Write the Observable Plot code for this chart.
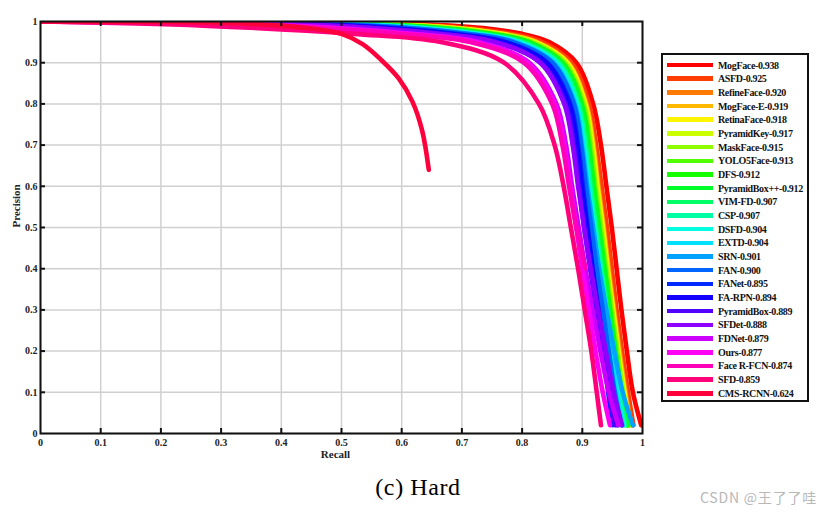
<!DOCTYPE html>
<html>
<head>
<meta charset="utf-8">
<script src="https://cdn.jsdelivr.net/npm/d3@7"></script>
<script src="https://cdn.jsdelivr.net/npm/@observablehq/plot@0.6"></script>
<style>
  html, body { margin: 0; padding: 0; background: #fff; }
  #wrap { position: relative; width: 828px; height: 516px; overflow: hidden; background: #fff; }
  #chart { position: absolute; left: 0; top: 0; }
  #legend { position: absolute; left: 661px; top: 53px; width: 148px; height: 349px; border: 2px solid #111; box-sizing: border-box; background: #fff; }
  .row { position: absolute; left: 4px; height: 12px; display: flex; align-items: center; white-space: nowrap; }
  .sw { width: 46px; height: 4.5px; margin-right: 5px; }
  .lb { font-family: "Liberation Serif", serif; font-weight: bold; font-size: 10px; color: #111; letter-spacing: -0.35px; }
  #caption { position: absolute; left: 4px; width: 828px; top: 474px; text-align: center; font-family: "Liberation Serif", serif; font-size: 24px; letter-spacing: 0.6px; color: #000; }
  #wm { position: absolute; left: 700px; top: 487px; font-family: "Noto Sans CJK SC", sans-serif; font-size: 14px; letter-spacing: 0.8px; color: #b8b8b8; }
</style>
</head>
<body>
<div id="wrap">
  <div id="chart"></div>
  <div id="legend"></div>
  <div id="caption">(c) Hard</div>
  <div id="wm">CSDN @王了了哇</div>
</div>
<script>
const methods = ["MogFace-0.938","ASFD-0.925","RefineFace-0.920","MogFace-E-0.919","RetinaFace-0.918","PyramidKey-0.917","MaskFace-0.915","YOLO5Face-0.913","DFS-0.912","PyramidBox++-0.912","VIM-FD-0.907","CSP-0.907","DSFD-0.904","EXTD-0.904","SRN-0.901","FAN-0.900","FANet-0.895","FA-RPN-0.894","PyramidBox-0.889","SFDet-0.888","FDNet-0.879","Ours-0.877","Face R-FCN-0.874","SFD-0.859","CMS-RCNN-0.624"];
const colors = ["#ff0000","#ff3d00","#ff7a00","#ffb800","#fff500","#ccff00","#8fff00","#52ff00","#14ff00","#00ff29","#00ff66","#00ffa3","#00ffe0","#00e0ff","#00a3ff","#0066ff","#0029ff","#1400ff","#5200ff","#8f00ff","#cc00ff","#ff00f5","#ff00b8","#ff007a","#ff003d"];
const ticks = [0, 0.1, 0.2, 0.3, 0.4, 0.5, 0.6, 0.7, 0.8, 0.9, 1];
const tickLabels = ["0", "0.1", "0.2", "0.3", "0.4", "0.5", "0.6", "0.7", "0.8", "0.9", "1"];
// precision levels at which recall was read for each curve
const precisionLevels = [1, 0.99, 0.97, 0.95, 0.9, 0.8, 0.7, 0.6, 0.5, 0.4, 0.3, 0.2, 0.1, 0.02];
const recallRows = [
  [0, 0.680, 0.800, 0.845, 0.890, 0.918, 0.931, 0.940, 0.949, 0.957, 0.965, 0.974, 0.984, 0.998],
  [0, 0.654, 0.782, 0.833, 0.882, 0.911, 0.923, 0.932, 0.941, 0.949, 0.957, 0.966, 0.976, 0.985],
  [0, 0.635, 0.769, 0.825, 0.877, 0.907, 0.919, 0.927, 0.936, 0.944, 0.953, 0.962, 0.972, 0.982],
  [0, 0.632, 0.767, 0.824, 0.876, 0.906, 0.918, 0.926, 0.935, 0.943, 0.952, 0.961, 0.971, 0.980],
  [0, 0.629, 0.765, 0.822, 0.875, 0.905, 0.917, 0.925, 0.934, 0.942, 0.951, 0.960, 0.970, 0.979],
  [0, 0.623, 0.761, 0.820, 0.873, 0.904, 0.916, 0.924, 0.933, 0.941, 0.950, 0.959, 0.969, 0.978],
  [0, 0.616, 0.756, 0.817, 0.871, 0.902, 0.914, 0.922, 0.931, 0.940, 0.949, 0.958, 0.968, 0.977],
  [0, 0.606, 0.749, 0.812, 0.868, 0.900, 0.912, 0.920, 0.929, 0.938, 0.947, 0.956, 0.966, 0.976],
  [0, 0.602, 0.747, 0.811, 0.867, 0.899, 0.911, 0.919, 0.928, 0.937, 0.946, 0.955, 0.965, 0.975],
  [0, 0.598, 0.745, 0.810, 0.866, 0.898, 0.910, 0.918, 0.927, 0.936, 0.945, 0.955, 0.965, 0.976],
  [0, 0.580, 0.732, 0.801, 0.861, 0.894, 0.906, 0.914, 0.923, 0.932, 0.941, 0.951, 0.961, 0.972],
  [0, 0.576, 0.729, 0.799, 0.860, 0.893, 0.905, 0.913, 0.922, 0.931, 0.940, 0.950, 0.960, 0.970],
  [0, 0.564, 0.721, 0.794, 0.856, 0.890, 0.902, 0.910, 0.919, 0.928, 0.938, 0.948, 0.958, 0.968],
  [0, 0.560, 0.718, 0.792, 0.855, 0.889, 0.901, 0.909, 0.918, 0.927, 0.937, 0.947, 0.957, 0.967],
  [0, 0.548, 0.710, 0.787, 0.851, 0.887, 0.899, 0.908, 0.918, 0.928, 0.940, 0.953, 0.967, 0.984],
  [0, 0.543, 0.707, 0.785, 0.850, 0.886, 0.898, 0.906, 0.915, 0.924, 0.934, 0.944, 0.954, 0.965],
  [0, 0.517, 0.689, 0.774, 0.842, 0.880, 0.893, 0.901, 0.909, 0.917, 0.926, 0.935, 0.943, 0.950],
  [0, 0.508, 0.683, 0.770, 0.840, 0.878, 0.891, 0.899, 0.908, 0.917, 0.927, 0.937, 0.947, 0.958],
  [0, 0.480, 0.663, 0.757, 0.831, 0.872, 0.886, 0.894, 0.903, 0.913, 0.923, 0.933, 0.944, 0.955],
  [0, 0.475, 0.660, 0.755, 0.830, 0.870, 0.884, 0.893, 0.903, 0.914, 0.926, 0.939, 0.952, 0.966],
  [0, 0.413, 0.618, 0.728, 0.812, 0.857, 0.873, 0.883, 0.894, 0.905, 0.917, 0.930, 0.944, 0.960],
  [0, 0.403, 0.611, 0.723, 0.809, 0.854, 0.870, 0.880, 0.890, 0.900, 0.911, 0.922, 0.934, 0.946],
  [0, 0.381, 0.596, 0.714, 0.803, 0.850, 0.867, 0.878, 0.890, 0.905],
  [0, 0.270, 0.520, 0.665, 0.770, 0.828, 0.854, 0.869, 0.881, 0.893, 0.904, 0.915, 0.924, 0.931]
];
const cmsRecall = [0, 0.30, 0.40, 0.45, 0.50, 0.535, 0.565, 0.595, 0.618, 0.634, 0.645];
const cmsPrecision = [1, 0.997, 0.99, 0.983, 0.97, 0.945, 0.908, 0.862, 0.805, 0.735, 0.64];

const data = [];
recallRows.forEach((row, i) => row.forEach((r, j) => data.push({method: methods[i], r, p: precisionLevels[j]})));
cmsRecall.forEach((r, j) => data.push({method: methods[24], r, p: cmsPrecision[j]}));

const serif = "Liberation Serif, serif";
const fmt = d => tickLabels[ticks.indexOf(d)];
const chart = Plot.plot({
  width: 660, height: 470,
  marginLeft: 40, marginRight: 18, marginTop: 21, marginBottom: 37,
  style: {fontFamily: serif, fontWeight: "bold", fontSize: "10px", color: "#222", background: "white"},
  x: {domain: [0, 1], axis: null},
  y: {domain: [0, 1], axis: null},
  color: {domain: methods, range: colors},
  marks: [
    Plot.gridX(ticks, {stroke: "#d0d0d0", strokeOpacity: 1, strokeWidth: 1.5}),
    Plot.gridY(ticks, {stroke: "#d0d0d0", strokeOpacity: 1, strokeWidth: 1.5}),
    Plot.line(data, {x: "r", y: "p", z: "method", stroke: "method", curve: "catmull-rom", strokeWidth: 4.6, strokeLinejoin: "round", clip: true}),
    Plot.ruleX(ticks.slice(1, -1), {x: d => d, y1: 0, y2: 0, insetTop: -5, stroke: "#111", strokeWidth: 2}),
    Plot.ruleX(ticks.slice(1, -1), {x: d => d, y1: 1, y2: 1, insetBottom: -5, stroke: "#111", strokeWidth: 2}),
    Plot.ruleY(ticks.slice(1, -1), {y: d => d, x1: 0, x2: 0, insetRight: -5, stroke: "#111", strokeWidth: 2}),
    Plot.ruleY(ticks.slice(1, -1), {y: d => d, x1: 1, x2: 1, insetLeft: -5, stroke: "#111", strokeWidth: 2}),
    Plot.frame({stroke: "#111", strokeWidth: 2}),
    Plot.axisX(ticks, {tickSize: 0, tickPadding: 5, tickFormat: fmt, fontWeight: "bold", fontFamily: serif, fontSize: 10, label: null}),
    Plot.axisY(ticks, {tickSize: 0, tickPadding: 3, tickFormat: fmt, fontWeight: "bold", fontFamily: serif, fontSize: 10, label: null}),
    Plot.text(["Recall"], {frameAnchor: "bottom", dy: 24, dx: -6, fontSize: 11, fontWeight: "bold", fontFamily: serif}),
    Plot.text(["Precision"], {frameAnchor: "left", dx: -24, rotate: -90, fontSize: 11, fontWeight: "bold", fontFamily: serif})
  ]
});
document.getElementById("chart").appendChild(chart);

const legend = document.getElementById("legend");
methods.forEach((m, i) => {
  const row = document.createElement("div");
  row.className = "row";
  row.style.top = (4 + i * 13.68) + "px";
  const sw = document.createElement("div");
  sw.className = "sw";
  sw.style.background = colors[i];
  const lb = document.createElement("span");
  lb.className = "lb";
  lb.textContent = m;
  row.appendChild(sw);
  row.appendChild(lb);
  legend.appendChild(row);
});
</script>
</body>
</html>
